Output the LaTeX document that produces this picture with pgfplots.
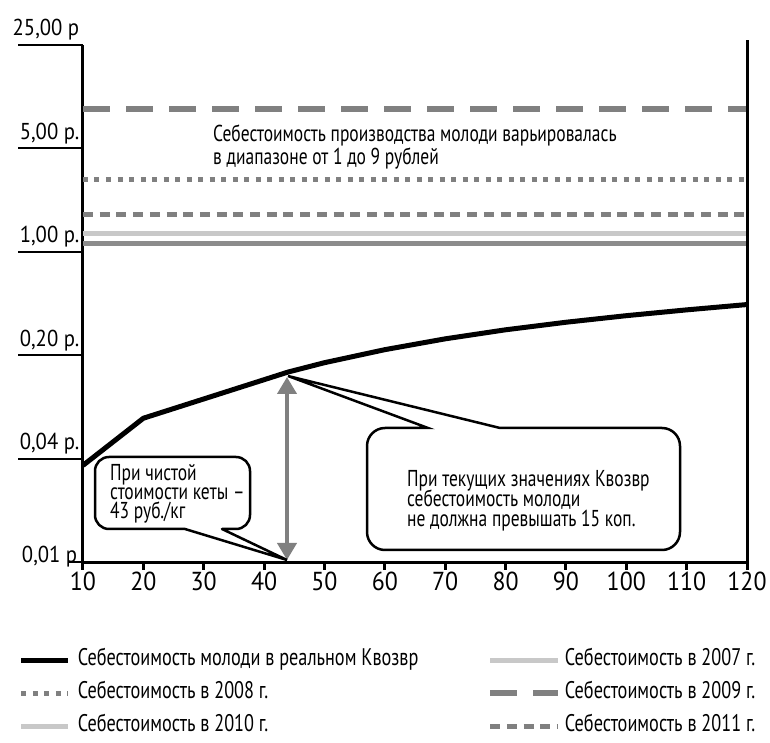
\documentclass[border=0pt]{standalone}
\usepackage{fontspec}
\setmainfont{PT Sans}[FakeStretch=0.76]
\newfontfamily\tickfont{PT Sans}[FakeStretch=0.92]
\newfontfamily\ytickfont{PT Sans}[FakeStretch=0.9]
\usepackage{pgfplots}
\pgfplotsset{compat=1.18}
\usetikzlibrary{arrows.meta}

\definecolor{dgray}{RGB}{128,128,128}
\definecolor{mgray}{RGB}{140,140,140}
\definecolor{lgray}{RGB}{200,200,200}

\pgfplotsset{
  short sample/.style={legend image code/.code={\draw[##1] (0pt,0pt) -- (47pt,0pt);}},
  long sample/.style={legend image code/.code={\draw[##1] (0pt,0pt) -- (68pt,0pt);}},
}

\begin{document}
\begin{tikzpicture}
% 1 px of the reference = 1 pt; origin = lower left corner of the plot area
\useasboundingbox (-83pt,-181pt) rectangle (687pt,562pt);
\begin{axis}[
  at={(0pt,0pt)}, anchor=south west,
  scale only axis, width=664pt, height=517pt,
  xmin=10, xmax=120,
  ymode=log, ymin=0.008, ymax=25, yminorticks=false,
  axis x line*=bottom, axis y line*=left,
  axis line style={line width=3pt,-},
  tick align=outside,
  xtick={10,20,...,120},
  xtick style={line width=3pt,black,/pgfplots/major tick length=8pt},
  ytick style={line width=2pt,black,/pgfplots/major tick length=65pt},
  ytick={0.04,0.2,1,5,25},
  yticklabels={0{,}04 р.,0{,}20 р.,1{,}00 р.,5{,}00 р.,25{,}00 р},
  extra y ticks={0.008},
  extra y tick labels={0{,}01 р},
  extra y tick style={ytick style={/pgfplots/major tick length=15pt},
    yticklabel style={xshift=-2pt,yshift=-9pt}},
  yticklabel style={anchor=base east,xshift=4pt,yshift=9pt,
    font=\ytickfont\fontsize{23}{23}\selectfont},
  xticklabel style={yshift=-2pt,font=\tickfont\fontsize{26}{26}\selectfont},
  /pgf/number format/assume math mode=true,
  legend columns=2,
  legend cell align=left,
  legend style={at={(-0.097,-0.169)}, anchor=north west, draw=none, fill=none,
    inner sep=0pt, row sep=12pt,
    /tikz/column 1/.style={column sep=7pt},
    /tikz/column 2/.style={column sep=69pt},
    /tikz/column 3/.style={column sep=4pt},
    nodes={inner sep=0pt, text height=16pt, text depth=5pt,
      font=\fontsize{24}{24}\selectfont}},
]
\addplot[black, line width=5pt, line join=round, short sample] coordinates {
  (10,0.036) (20,0.075) (44,0.154) (50,0.178) (60,0.218) (70,0.258)
  (80,0.297) (90,0.334) (100,0.370) (110,0.405) (120,0.440)};
\addlegendentry{Себестоимость молоди в реальном Квозвр}
\addplot[lgray, line width=5pt, long sample] coordinates {(10,1.32) (120,1.32)};
\addlegendentry{Себестоимость в 2007 г.}
\addplot[dgray, line width=5pt, dash pattern=on 5pt off 6.5pt, short sample] coordinates {(10,3.06) (120,3.06)};
\addlegendentry{Себестоимость в 2008 г.}
\addplot[dgray, line width=5.5pt, dash pattern=on 27pt off 16pt, long sample] coordinates {(10,9.2) (120,9.2)};
\addlegendentry{Себестоимость в 2009 г.}
\addplot[mgray, line width=5pt,
  legend image code/.code={\draw[lgray, line width=5pt] (0pt,0pt) -- (47pt,0pt);}] coordinates {(10,1.13) (120,1.13)};
\addlegendentry{Себестоимость в 2010 г.}
\addplot[dgray, line width=5pt, dash pattern=on 10pt off 6.7pt, long sample] coordinates {(10,1.80) (120,1.80)};
\addlegendentry{Себестоимость в 2011 г.}
\end{axis}

% right frame line
\draw[line width=3pt] (664pt,-1.5pt) -- (664pt,522pt);

% range arrow
\draw[dgray, line width=4pt, {Triangle[length=17pt,width=19pt]}-{Triangle[length=17pt,width=19pt]}]
  (204pt,2pt) -- (204pt,185pt);

% callout 1
\filldraw[fill=white, line width=2.5pt, line cap=round]
  (139pt,33pt) -- (204pt,2pt) -- (102pt,33pt) [rounded corners=14pt]
  -- (12pt,33pt) -- (12pt,105pt) -- (167pt,105pt) -- (167pt,33pt) -- (139pt,33pt);
\begin{scope}[every node/.style={anchor=base west, inner sep=0pt, font=\fontsize{23}{23}\selectfont}]
\node at (27pt,81pt) {При чистой};
\node at (27pt,62pt) {стоимости кеты –};
\node at (27pt,43pt) {43 руб./кг};
\end{scope}

% callout 2
\filldraw[fill=white, line width=2.5pt, line cap=round]
  (417pt,134pt) -- (205pt,186pt) -- (345pt,134pt) [rounded corners=18pt]
  -- (284pt,134pt) -- (284pt,12pt) -- (597pt,12pt) -- (597pt,134pt) -- (417pt,134pt);
\begin{scope}[every node/.style={anchor=base west, inner sep=0pt, font=\fontsize{23}{23}\selectfont}]
\node at (324pt,75pt) {При текущих значениях Квозвр};
\node at (324pt,55pt) {себестоимость молоди};
\node at (324pt,35pt) {не должна превышать 15 коп.};
% range note
\node at (130pt,420pt) {Себестоимость производства молоди варьировалась};
\node at (130pt,397pt) {в диапазоне от 1 до 9 рублей};
\end{scope}
\end{tikzpicture}
\end{document}
